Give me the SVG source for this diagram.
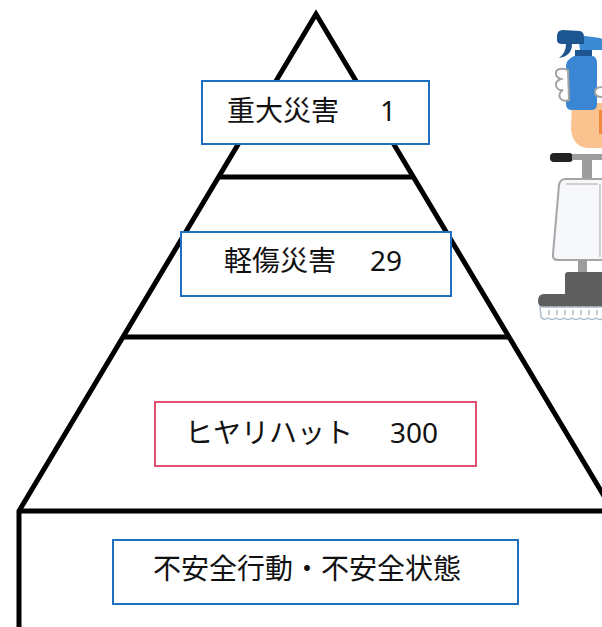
<svg xmlns="http://www.w3.org/2000/svg" width="602" height="627" viewBox="0 0 602 627">
  <style>
    .edge { fill: none; stroke: #000; stroke-width: 5; stroke-linejoin: miter; }
    .box { fill: #fff; stroke-width: 2; }
    .blue { stroke: #1f6fc0; }
    .pink { stroke: #e0506f; }
    .label { font-family: "Noto Sans CJK JP", "Noto Sans", sans-serif; font-size: 28px; fill: #111; }
    .num { font-family: "Noto Sans", "Noto Sans CJK JP", sans-serif; }
  </style>

  <rect x="0" y="0" width="602" height="627" fill="#fff"/>

  <!-- pyramid outline and tier dividers -->
  <g id="connectors">
    <path class="edge" d="M 19 627 V 511 L 316 14 L 616 516"/>
    <path class="edge" d="M 19 511 H 602"/>
    <path class="edge" d="M 218.6 177 H 413.4"/>
    <path class="edge" d="M 123 337 H 509"/>
  </g>

  <!-- tier labels -->
  <g id="tier-major">
    <rect class="box blue" x="202" y="81" width="227" height="63"/>
    <text class="label" x="227" y="121">重大災害<tspan class="num" x="380">1</tspan></text>
  </g>

  <g id="tier-minor">
    <rect class="box blue" x="181" y="232" width="270" height="64"/>
    <text class="label" x="224" y="271">軽傷災害<tspan class="num" x="370">29</tspan></text>
  </g>

  <g id="tier-nearmiss">
    <rect class="box pink" x="155" y="402" width="321" height="64"/>
    <text class="label" x="185" y="443">ヒヤリハット<tspan class="num" x="390">300</tspan></text>
  </g>

  <g id="tier-unsafe">
    <rect class="box blue" x="113" y="540" width="405" height="64"/>
    <text class="label" x="153" y="579">不安全行動・不安全状態</text>
  </g>

  <!-- spray bottle held in a hand -->
  <g id="spray-bottle">
    <path d="M 572 103 H 602 V 148 H 587 Q 573 146 571 130 Z" fill="#f9c28e"/>
    <rect x="599" y="110" width="3" height="24" fill="#f08a3c"/>
    <path d="M 578 35 L 600 38 L 602 39 V 50 L 580 50 Z" fill="#3c8ad4"/>
    <path d="M 557 36 Q 557 30 563 30 L 580 31 Q 584 32 584 37 L 584 44 L 562 44 Q 557 44 557 40 Z" fill="#1d5590"/>
    <path d="M 566 44 Q 566 53 559 58 Q 572 56 572 44 Z" fill="#1d5590"/>
    <rect x="575" y="50" width="17" height="7" fill="#1d5590"/>
    <path d="M 574 56 H 592 Q 597 56 597 64 V 104 Q 597 110 591 110 H 572 Q 566 110 566 104 V 66 Q 566 60 574 56 Z" fill="#3b86d2"/>
    <path d="M 568 70 Q 558 67 556 72 Q 555 77 561 79 Q 555 81 556 86 Q 558 91 563 90 Q 558 93 560 98 Q 563 102 569 100 Z" fill="#fff" stroke="#a3a3a3" stroke-width="2"/>
    <path d="M 602 87 Q 595 87 595 92 Q 595 97 602 97" fill="#fff" stroke="#a3a3a3" stroke-width="2"/>
  </g>

  <!-- floor scrubber -->
  <g id="floor-scrubber">
    <rect x="550" y="153" width="23" height="9" rx="4" fill="#222"/>
    <rect x="572" y="154" width="30" height="6" fill="#9d9d9d"/>
    <rect x="582" y="158" width="10" height="21" fill="#9d9d9d"/>
    <path d="M 566 179 H 604 V 260 H 558 Q 552 260 553 254 L 559 185 Q 560 179 566 179 Z" fill="#f7f8fb" stroke="#a6a6a6" stroke-width="2"/>
    <line x1="566" y1="184" x2="598" y2="184" stroke="#d0d0d0" stroke-width="2"/>
    <line x1="600" y1="184" x2="600" y2="257" stroke="#d0d0d0" stroke-width="2"/>
    <rect x="578" y="260" width="9" height="13" fill="#9d9d9d"/>
    <path d="M 568 272 H 604 V 296 H 565 V 275 Q 565 272 568 272 Z" fill="#5e5e5e"/>
    <path d="M 544 294 H 604 V 307 H 544 Q 538 307 538 301 Q 538 294 544 294 Z" fill="#5e5e5e"/>
    <path d="M 540 307 H 604 V 318 Q 600 321 596 318 Q 592 321 588 318 Q 584 321 580 318 Q 576 321 572 318 Q 568 321 564 318 Q 560 321 556 318 Q 552 321 548 318 Q 544 321 541 317 Z" fill="#fff" stroke="#aebccb" stroke-width="1.5"/>
    <g fill="#c3cdd8">
      <rect x="548" y="310" width="2" height="5"/>
      <rect x="556" y="310" width="2" height="5"/>
      <rect x="564" y="310" width="2" height="5"/>
      <rect x="572" y="310" width="2" height="5"/>
      <rect x="580" y="310" width="2" height="5"/>
      <rect x="588" y="310" width="2" height="5"/>
      <rect x="596" y="310" width="2" height="5"/>
    </g>
  </g>
</svg>
